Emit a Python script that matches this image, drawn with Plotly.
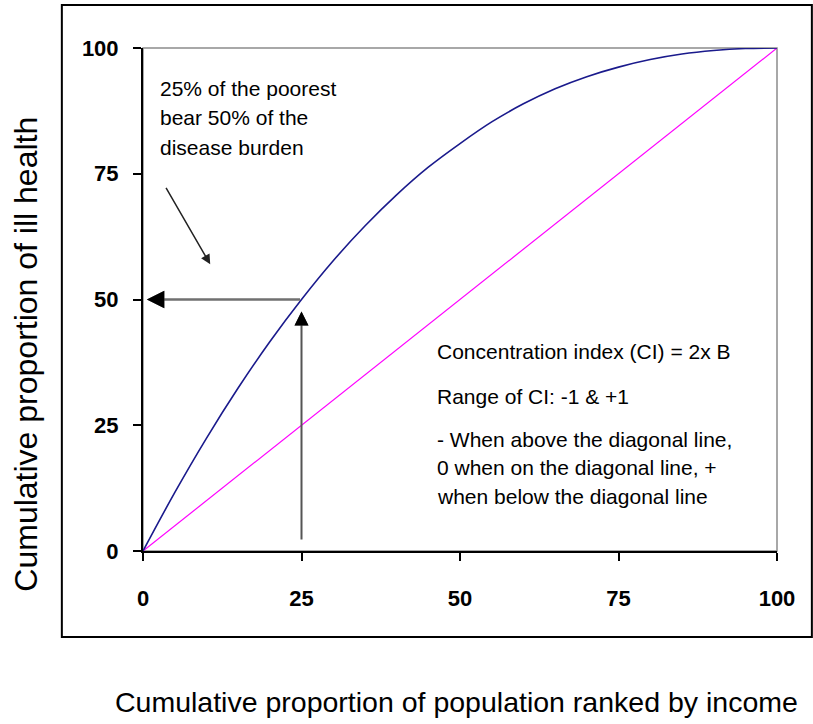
import plotly.graph_objects as go

# data
pop_share = [0, 5, 10, 15, 20, 25, 30, 35, 40, 45, 50, 55, 60, 65, 70, 75, 80, 85, 90, 95, 100]
ill_health = [0, 11.6, 22.4, 32.4, 41.6, 50, 57.7, 64.6, 70.8, 76.3, 81.0, 85.3, 88.9, 91.9, 94.3, 96.2, 97.7, 98.8, 99.5, 99.9, 100]
diag_x = [0, 100]
diag_y = [0, 100]
tick_vals = [0, 25, 50, 75, 100]

note_left = ["25% of the poorest", "bear 50% of the", "disease burden"]
note_left_y = [92.0, 86.2, 80.3]
note_right = ["Concentration index (CI) = 2x B", "Range of CI: -1 & +1",
              "- When above the diagonal line,", "0 when on the diagonal line, +",
              "when below the diagonal line"]
note_right_y = [39.6, 30.8, 22.1, 16.7, 10.9]

fig = go.Figure()
fig.add_trace(go.Scatter(x=diag_x, y=diag_y, mode="lines",
                         line=dict(color="#FF00FF", width=1.2), hoverinfo="skip"))
fig.add_trace(go.Scatter(x=pop_share, y=ill_health, mode="lines", line_shape="spline",
                         line=dict(color="#1A1A8C", width=1.6), hoverinfo="skip"))

TXT = "Liberation Sans, Arial, sans-serif"

# outer frame and plot-area border
fig.add_shape(type="rect", xref="paper", yref="paper", x0=-0.128, x1=1.055, y0=-0.171, y1=1.0855,
              line=dict(color="black", width=2), layer="below")
fig.add_shape(type="rect", xref="paper", yref="paper", x0=0, x1=1, y0=0, y1=1,
              line=dict(color="#8C8C8C", width=1.5), layer="below")

# arrows (gray shafts, black heads)
fig.add_annotation(x=0.6, y=50, ax=25, ay=50, xref="x", yref="y", axref="x", ayref="y",
                   text="", showarrow=True, arrowhead=2, arrowsize=1.4, arrowwidth=2.5,
                   arrowcolor="#707070")
fig.add_annotation(x=0.6, y=50, ax=2.6, ay=50, xref="x", yref="y", axref="x", ayref="y",
                   text="", showarrow=True, arrowhead=2, arrowsize=1.4, arrowwidth=2.5,
                   arrowcolor="#000000")
fig.add_annotation(x=25, y=47.6, ax=25, ay=2, xref="x", yref="y", axref="x", ayref="y",
                   text="", showarrow=True, arrowhead=2, arrowsize=1.4, arrowwidth=2,
                   arrowcolor="#555555")
fig.add_annotation(x=25, y=47.6, ax=25, ay=45.0, xref="x", yref="y", axref="x", ayref="y",
                   text="", showarrow=True, arrowhead=2, arrowsize=1.4, arrowwidth=2,
                   arrowcolor="#000000")
fig.add_annotation(x=10.6, y=57.0, ax=3.5, ay=72.5, xref="x", yref="y", axref="x", ayref="y",
                   text="", showarrow=True, arrowhead=2, arrowsize=1.3, arrowwidth=1.5,
                   arrowcolor="#222222")

# texts
for t, yv in zip(note_left, note_left_y):
    fig.add_annotation(x=2.4, y=yv, xref="x", yref="y", xanchor="left", yanchor="middle",
                       text=t, showarrow=False, align="left",
                       font=dict(family=TXT, size=21, color="black"))
for t, yv in zip(note_right, note_right_y):
    fig.add_annotation(x=46.0, y=yv, xref="x", yref="y", xanchor="left", yanchor="middle",
                       text=t, showarrow=False, align="left",
                       font=dict(family=TXT, size=21, color="black"))

# axis titles
fig.add_annotation(x=-0.184, y=0.391, xref="paper", yref="paper", xanchor="center", yanchor="middle",
                   text="Cumulative proportion of ill health",
                   textangle=-90, showarrow=False, font=dict(family=TXT, size=32, color="black"))
fig.add_annotation(x=0.4945, y=-0.301, xref="paper", yref="paper", xanchor="center", yanchor="middle",
                   text="Cumulative proportion of population ranked by income",
                   showarrow=False, font=dict(family=TXT, size=28.5, color="black"))

axis_common = dict(range=[0, 100], tickvals=tick_vals, ticktext=[str(v) for v in tick_vals],
                   showgrid=False, zeroline=False, showline=True, linecolor="black", linewidth=2,
                   ticks="outside", ticklen=8, tickwidth=2, tickcolor="black",
                   tickfont=dict(family="Liberation Sans, Arial", size=22, color="black", weight="bold"))

fig.update_xaxes(**axis_common, ticklabelstandoff=19)
fig.update_yaxes(**axis_common, ticklabelstandoff=10)

fig.update_layout(width=813, height=724, margin=dict(l=143, r=36, t=48, b=173),
                  plot_bgcolor="white", paper_bgcolor="white", showlegend=False)

fig.write_html("out.html", config={"displayModeBar": False},
               post_script="document.body.style.margin='0';")
